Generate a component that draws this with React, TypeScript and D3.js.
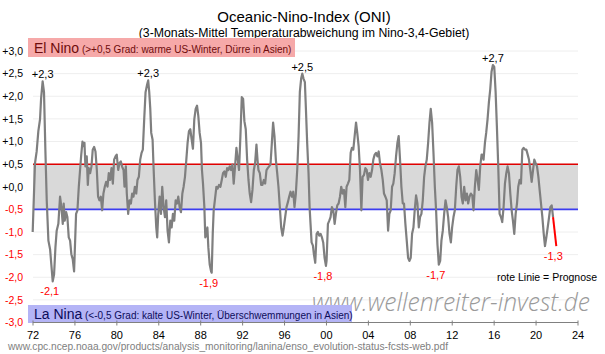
import React from "react";
import * as d3 from "d3";

// ---- data ----
const years = [
  1971.97, 1972.19, 1972.35, 1972.51, 1972.67, 1972.77, 1972.92, 1973.05, 1973.18, 1973.31,
  1973.47, 1973.63, 1973.75, 1973.88, 1974.01, 1974.14, 1974.26, 1974.42, 1974.58, 1974.71,
  1974.84, 1974.93, 1975.03, 1975.16, 1975.28, 1975.41, 1975.54, 1975.66, 1975.79, 1975.92,
  1976.11, 1976.24, 1976.37, 1976.49, 1976.59, 1976.72, 1976.81, 1976.91, 1977.0, 1977.13,
  1977.23, 1977.32, 1977.45, 1977.58, 1977.7, 1977.83, 1977.96, 1978.09, 1978.21, 1978.34,
  1978.47, 1978.6, 1978.72, 1978.85, 1978.98, 1979.11, 1979.23, 1979.36, 1979.49, 1979.62,
  1979.74, 1979.87, 1979.99, 1980.13, 1980.25, 1980.38, 1980.51, 1980.64, 1980.73, 1980.86,
  1980.95, 1981.08, 1981.21, 1981.34, 1981.46, 1981.59, 1981.72, 1981.85, 1981.97, 1982.1,
  1982.23, 1982.36, 1982.48, 1982.61, 1982.74, 1982.87, 1982.99, 1983.09, 1983.19, 1983.28,
  1983.41, 1983.5, 1983.63, 1983.76, 1983.85, 1983.95, 1984.08, 1984.21, 1984.33, 1984.46,
  1984.59, 1984.71, 1984.84, 1984.97, 1985.1, 1985.23, 1985.35, 1985.48, 1985.61, 1985.74,
  1985.86, 1985.99, 1986.12, 1986.25, 1986.37, 1986.5, 1986.63, 1986.75, 1986.88, 1987.01,
  1987.14, 1987.26, 1987.39, 1987.52, 1987.65, 1987.77, 1987.9, 1988.03, 1988.12, 1988.22,
  1988.35, 1988.44, 1988.54, 1988.64, 1988.73, 1988.86, 1988.99, 1989.05, 1989.15, 1989.24,
  1989.37, 1989.5, 1989.62, 1989.75, 1989.88, 1990.01, 1990.13, 1990.26, 1990.39, 1990.52,
  1990.64, 1990.77, 1990.9, 1991.03, 1991.15, 1991.28, 1991.41, 1991.54, 1991.66, 1991.79,
  1991.92, 1992.05, 1992.17, 1992.3, 1992.43, 1992.56, 1992.68, 1992.81, 1992.94, 1993.07,
  1993.19, 1993.32, 1993.42, 1993.51, 1993.64, 1993.77, 1993.89, 1994.02, 1994.15, 1994.28,
  1994.4, 1994.53, 1994.66, 1994.79, 1994.91, 1995.04, 1995.17, 1995.3, 1995.42, 1995.55,
  1995.68, 1995.81, 1995.93, 1996.06, 1996.19, 1996.32, 1996.44, 1996.57, 1996.7, 1996.83,
  1996.95, 1997.08, 1997.21, 1997.34, 1997.46, 1997.59, 1997.69, 1997.81, 1997.94, 1998.04,
  1998.16, 1998.29, 1998.39, 1998.48, 1998.58, 1998.71, 1998.8, 1998.93, 1999.06, 1999.18,
  1999.31, 1999.44, 1999.57, 1999.69, 1999.82, 1999.95, 2000.01, 2000.14, 2000.27, 2000.39,
  2000.52, 2000.65, 2000.78, 2000.9, 2001.03, 2001.16, 2001.29, 2001.41, 2001.54, 2001.67,
  2001.8, 2001.92, 2002.05, 2002.18, 2002.31, 2002.43, 2002.56, 2002.69, 2002.82, 2002.94,
  2003.07, 2003.2, 2003.33, 2003.45, 2003.58, 2003.71, 2003.84, 2003.96, 2004.09, 2004.22,
  2004.35, 2004.47, 2004.6, 2004.73, 2004.86, 2004.98, 2005.11, 2005.24, 2005.37, 2005.49,
  2005.62, 2005.75, 2005.88, 2006.0, 2006.13, 2006.26, 2006.38, 2006.51, 2006.64, 2006.77,
  2006.89, 2007.02, 2007.15, 2007.28, 2007.4, 2007.53, 2007.66, 2007.79, 2007.91, 2008.04,
  2008.17, 2008.3, 2008.42, 2008.55, 2008.68, 2008.81, 2008.93, 2009.06, 2009.19, 2009.32,
  2009.44, 2009.57, 2009.7, 2009.83, 2009.95, 2010.08, 2010.21, 2010.34, 2010.46, 2010.59,
  2010.72, 2010.85, 2010.97, 2011.1, 2011.23, 2011.36, 2011.48, 2011.61, 2011.74, 2011.87,
  2011.99, 2012.12, 2012.25, 2012.38, 2012.5, 2012.63, 2012.76, 2012.89, 2013.01, 2013.14,
  2013.27, 2013.4, 2013.52, 2013.65, 2013.78, 2013.91, 2014.03, 2014.16, 2014.29, 2014.42,
  2014.54, 2014.67, 2014.8, 2014.86, 2014.99, 2015.12, 2015.24, 2015.37, 2015.5, 2015.63,
  2015.75, 2015.88, 2016.01, 2016.14, 2016.26, 2016.39, 2016.52, 2016.65, 2016.77, 2016.9,
  2017.03, 2017.16, 2017.28, 2017.41, 2017.54, 2017.67, 2017.79, 2017.92, 2018.05, 2018.18,
  2018.3, 2018.43, 2018.56, 2018.69, 2018.81, 2018.94, 2019.07, 2019.2, 2019.32, 2019.45,
  2019.58, 2019.71, 2019.83, 2019.96, 2020.09, 2020.22, 2020.34, 2020.47, 2020.6, 2020.73,
  2020.85, 2020.98, 2021.11, 2021.24, 2021.36, 2021.49, 2021.62,
];

const oni = [
  -1.0, 0.52, 0.78, 1.23, 1.49, 1.94, 2.33, 2.09, 0.82, -0.3,
  -1.19, -1.38, -1.72, -2.09, -1.94, -1.34, -0.97, -0.82, -0.22, -0.45,
  -0.82, -0.37, -0.75, -0.56, -0.67, -1.12, -1.19, -1.49, -1.6, -1.87,
  -0.6, -0.52, 0.0, 0.37, 0.67, 1.0, 0.9, 0.97, 0.45, 0.67,
  0.04, 0.41, 0.3, 0.45, 0.82, 0.88, 0.78, 0.37, -0.22, -0.3,
  -0.22, -0.52, -0.15, 0.0, 0.11, 0.0, 0.3, 0.15, 0.41, 0.07,
  0.6, 0.67, 0.71, 0.37, 0.52, 0.56, 0.44, 0.37, 0.0, 0.45,
  -0.15, -0.6, -0.3, -0.37, -0.15, -0.22, 0.0, -0.15, 0.15, 0.22,
  0.6, 0.75, 0.82, 1.49, 2.09, 2.24, 2.35, 2.09, 1.72, 1.19,
  1.04, 0.45, -0.3, -0.9, -1.12, -0.6, -0.22, -0.6, 0.0, -0.45,
  -0.67, -0.3, -0.97, -1.23, -0.75, -0.9, -0.6, -0.75, -0.3, -0.37,
  -0.22, -0.45, -0.56, -0.15, 0.0, 0.22, 0.6, 0.97, 1.23, 1.27,
  1.04, 0.84, 1.49, 1.72, 1.79, 1.57, 1.19, 0.97, 0.37, 0.07,
  -0.45, -1.12, -1.04, -0.9, -1.34, -1.72, -1.87, -1.9, -1.04, -0.52,
  -0.26, 0.0, -0.04, 0.04, 0.0, 0.15, 0.3, 0.34, 0.22, 0.41,
  0.37, 0.45, 0.37, 0.49, 0.07, 0.45, 0.86, 0.6, 0.37, 1.12,
  1.98, 1.94, 1.45, 1.27, 0.6, 0.15, -0.15, -0.34, -0.07, 0.37,
  0.52, 0.93, 0.6, 0.37, 0.3, 0.04, 0.04, 0.15, 0.07, 0.37,
  0.41, 0.45, 0.49, 0.97, 1.42, 1.12, 0.6, 0.3, 0.0, -0.45,
  -0.9, -1.08, -0.9, -0.67, -0.45, -0.34, -0.22, -0.11, -0.22, -0.11,
  -0.45, -0.15, 0.37, 1.12, 2.09, 2.4, 2.5, 2.39, 2.31, 1.72,
  0.97, 0.3, -0.45, -0.82, -1.23, -1.3, -1.49, -1.68, -1.04, -1.0,
  -1.08, -1.04, -1.12, -1.23, -1.57, -1.75, -1.64, -0.82, -0.75, -0.67,
  -0.45, -0.52, -0.82, -0.6, -0.41, -0.37, -0.22, 0.0, -0.15, -0.07,
  -0.45, 0.0, 0.07, 0.15, 0.75, 0.86, 0.82, 1.12, 1.42, 1.19,
  0.9, 0.37, -0.52, 0.22, 0.26, 0.41, 0.37, 0.15, 0.3, 0.22,
  0.37, 0.6, 0.71, 0.75, 0.67, 0.78, 0.52, 0.37, 0.15, -0.15,
  -0.22, -0.3, -0.97, -0.6, -0.52, 0.0, 0.07, 0.3, 0.67, 0.97,
  1.12, 0.6, 0.0, -0.37, -0.37, -0.82, -1.19, -1.57, -1.64, -1.57,
  -1.04, -0.9, -0.52, -0.19, -0.37, -0.9, -0.67, -0.6, -0.3, 0.22,
  0.45, 0.6, 0.97, 1.42, 1.72, 1.42, 0.75, 0.0, -0.52, -1.27,
  -1.72, -1.64, -1.19, -0.97, -0.6, -0.3, -0.45, -0.67, -1.04, -1.23,
  -0.9, -0.67, -0.52, 0.0, 0.37, 0.45, 0.22, -0.22, -0.37, 0.0,
  -0.3, -0.15, -0.37, -0.22, -0.15, -0.19, -0.52, 0.0, 0.37, 0.15,
  -0.07, 0.45, 0.71, 0.71, 0.6, 0.97, 1.19, 1.49, 1.87, 2.16,
  2.54, 2.69, 2.65, 2.09, 1.34, 0.45, -0.6, -0.67, -0.78, -0.45,
  0.07, 0.3, 0.45, 0.3, -0.15, -0.52, -0.75, -1.04, -0.6, -0.37,
  0.0, 0.15, 0.07, 0.82, 0.86, 0.82, 0.82, 0.71, 0.6, 0.37,
  0.11, 0.37, 0.6, 0.52, 0.45, 0.22, -0.07, -0.37, -0.67, -1.04,
  -1.31, -1.12, -0.9, -0.67, -0.45, -0.41, -0.67,
];

const forecastYears = [2021.62, 2021.93];
const forecastOni = [-0.67, -1.31];

const yTicks = [3, 2.5, 2, 1.5, 1, 0.5, 0, -0.5, -1, -1.5, -2, -2.5, -3];
const yTickLabels = ["+3,0", "+2,5", "+2,0", "+1,5", "+1,0", "+0,5", "+0,0", "-0,5", "-1,0", "-1,5", "-2,0", "-2,5", "-3,0"];
const xTicks = [1972, 1976, 1980, 1984, 1988, 1992, 1996, 2000, 2004, 2008, 2012, 2016, 2020, 2024];
const xTickLabels = ["72", "76", "80", "84", "88", "92", "96", "00", "04", "08", "12", "16", "20", "24"];

const peakYears = [1972.92, 1982.99, 1997.69, 2015.88];
const peakValues = [2.33, 2.35, 2.5, 2.69];
const peakTexts = ["+2,3", "+2,3", "+2,5", "+2,7"];

const troughYears = [1973.88, 1989.05, 1999.95, 2010.72, 2021.93];
const troughValues = [-2.09, -1.9, -1.75, -1.72, -1.31];
const troughTexts = ["-2,1", "-1,9", "-1,8", "-1,7", "-1,3"];

const elNinoThreshold = 0.5;
const laNinaThreshold = -0.5;

const FONT = "'Liberation Sans', Arial, Helvetica, sans-serif";

export default function App() {
  const W = 605;
  const H = 354;
  const x = d3.scaleLinear().domain([1972, 2024]).range([33, 578]);
  const y = d3.scaleLinear().domain([-3, 3]).range([322.5, 51]);

  const pts: [number, number][] = years.map((yr, i) => [yr, oni[i]]);
  const fpts: [number, number][] = forecastYears.map((yr, i) => [yr, forecastOni[i]]);
  const line = d3
    .line<[number, number]>()
    .x((d) => x(d[0]))
    .y((d) => y(d[1]));

  const x0 = x(1972);
  const x1 = x(2024);

  return (
    <svg
      width={W}
      height={H}
      viewBox={`0 0 ${W} ${H}`}
      style={{ position: "absolute", left: 0, top: 0, background: "#fff" }}
      fontFamily={FONT}
    >
      <rect x={0} y={0} width={W} height={H} fill="#ffffff" />

      {/* grid */}
      {yTicks.map((t) => (
        <line key={"g" + t} x1={x0} x2={x1} y1={y(t)} y2={y(t)} stroke="#eeeeee" strokeWidth={1} />
      ))}

      {/* neutral band */}
      <rect
        x={x0}
        y={y(elNinoThreshold)}
        width={x1 - x0}
        height={y(laNinaThreshold) - y(elNinoThreshold)}
        fill="#d9d9d9"
      />
      <line x1={x0} x2={x1} y1={y(elNinoThreshold)} y2={y(elNinoThreshold)} stroke="#e00000" strokeWidth={1.5} />
      <line x1={x0} x2={x1} y1={y(laNinaThreshold)} y2={y(laNinaThreshold)} stroke="#3c3cf0" strokeWidth={1.8} />

      {/* title */}
      <text x={304} y={22} textAnchor="middle" fontSize={15} fill="#000">
        Oceanic-Nino-Index (ONI)
      </text>
      <text x={304} y={37} textAnchor="middle" fontSize={12.3} fill="#000">
        (3-Monats-Mittel Temperaturabweichung im Nino-3,4-Gebiet)
      </text>

      {/* y axis labels */}
      {yTicks.map((t, i) => (
        <text
          key={"yl" + t}
          x={23}
          y={y(t) + 3.8}
          textAnchor="end"
          fontSize={10.5}
          fill={t < 0 ? "#ff0000" : "#000"}
        >
          {yTickLabels[i]}
        </text>
      ))}

      {/* watermark (partly behind La Nina box) */}
      <text
        x={312}
        y={311}
        fontSize={25}
        fontStyle="italic"
        fontWeight={300}
        fontFamily="'Open Sans', 'Liberation Sans', sans-serif"
        fill="#9a9a9a"
        textLength={278}
        lengthAdjust="spacingAndGlyphs"
      >
        www.wellenreiter-invest.de
      </text>

      {/* El Nino box */}
      <rect x={28} y={38} width={267} height={19} fill="#f6a9a9" />
      <text x={34} y={52.5} fill="#6e0c0c">
        <tspan fontSize={14}>El Nino</tspan>
        <tspan fontSize={10}> (&gt;+0,5 Grad: warme US-Winter, Dürre in Asien)</tspan>
      </text>

      {/* La Nina box */}
      <rect x={28} y={305} width={324} height={18} fill="#b4b4f6" />
      <text x={34} y={318.5} fill="#0c0c5a">
        <tspan fontSize={14}>La Nina</tspan>
        <tspan fontSize={10}> (&lt;-0,5 Grad: kalte US-Winter, Überschwemmungen in Asien)</tspan>
      </text>

      {/* x axis */}
      <line x1={x0} x2={x1} y1={y(-3)} y2={y(-3)} stroke="#808080" strokeWidth={1} />
      {xTicks.map((t, i) => (
        <g key={"xt" + t}>
          <line x1={x(t)} x2={x(t)} y1={y(-3) - 2} y2={y(-3) + 3} stroke="#808080" strokeWidth={1} />
          <text x={x(t)} y={339} textAnchor="middle" fontSize={11} fill="#000">
            {xTickLabels[i]}
          </text>
        </g>
      ))}

      {/* data line */}
      <path d={line(pts) || ""} fill="none" stroke="#7f7f7f" strokeWidth={2.2} strokeLinejoin="round" />
      <path d={line(fpts) || ""} fill="none" stroke="#ff0000" strokeWidth={2} />

      {/* peak labels */}
      {peakYears.map((yr, i) => (
        <text key={"p" + i} x={x(yr)} y={y(peakValues[i]) - 3} textAnchor="middle" fontSize={11} fill="#000">
          {peakTexts[i]}
        </text>
      ))}
      {troughYears.map((yr, i) => (
        <text key={"t" + i} x={x(yr) - 3} y={y(troughValues[i]) + 14} textAnchor="middle" fontSize={11} fill="#ff0000">
          {troughTexts[i]}
        </text>
      ))}

      <text x={497} y={281} fontSize={10.5} fill="#000">
        rote Linie = Prognose
      </text>

      {/* source */}
      <text x={8} y={350} fontSize={10} fill="#808080" textLength={440} lengthAdjust="spacingAndGlyphs">
        www.cpc.ncep.noaa.gov/products/analysis_monitoring/lanina/enso_evolution-status-fcsts-web.pdf
      </text>
    </svg>
  );
}
